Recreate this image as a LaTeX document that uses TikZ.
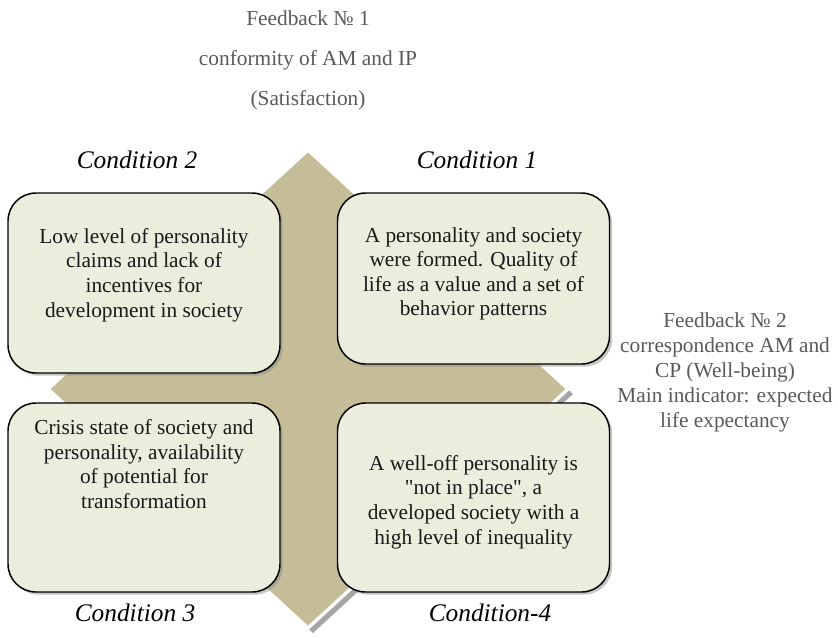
\documentclass[tikz,border=0pt]{standalone}
\usepackage{fontspec}
\setmainfont{Liberation Serif}
\usetikzlibrary{shadows}
\definecolor{tanfill}{HTML}{C4BD97}
\definecolor{boxfill}{HTML}{EBEEDD}
\definecolor{notegray}{HTML}{595959}

\begin{document}
\begin{tikzpicture} [
    x=0.75pt, y=-0.75pt,
    state/.style     = { rectangle, draw=black, line width=1.1pt, fill=boxfill,
                         rounded corners=21pt, minimum width=204pt,
                         drop shadow={shadow xshift=2pt, shadow yshift=-2pt,
                                      fill=black!45} },
    statetext/.style = { align=center, text=black!90,
                         font=\fontsize{16}{18.4}\selectfont },
    cond/.style      = { font=\fontsize{19}{22}\selectfont\itshape },
    note/.style      = { align=center, text=notegray },
  ]
  \useasboundingbox (0,0) rectangle (838,637);
  % the diamond behind the four states
  \coordinate (dtop)    at (308,150);
  \coordinate (dright)  at (568,389);
  \coordinate (dbottom) at (308,628);
  \coordinate (dleft)   at (48,389);
  \fill [black!35] ([shift={(5,5)}]dtop) -- ([shift={(5,5)}]dright)
        -- ([shift={(5,5)}]dbottom) -- ([shift={(5,5)}]dleft) -- cycle;
  \path [fill=tanfill, draw=white, line width=2.5pt]
        (dtop) -- (dright) -- (dbottom) -- (dleft) -- cycle;

  % the four states
  \node [state, minimum height=135pt]    (st2) at (144,283)   {};
  \node [state, minimum height=128.25pt] (st1) at (473.5,278.5) {};
  \node [state, minimum height=141.75pt] (st3) at (144,497.5) {};
  \node [state, minimum height=141.75pt] (st4) at (473.5,497.5) {};

  \node [statetext] (st2-text) at (144,275)
        {Low level of personality\\ claims and lack of\\ incentives for\\ development in society};
  \node [statetext] (st1-text) at (473.5,274)
        {A personality and society\\ were formed. Quality of\\ life as a value and a set of\\ behavior patterns};
  \node [statetext] (st3-text) at (144,464)
        {Crisis state of society and\\ personality, availability\\ of potential for\\ transformation};
  \node [statetext] (st4-text) at (473.5,502)
        {A well-off personality is\\ \textquotedbl not in place\textquotedbl, a\\ developed society with a\\ high level of inequality};

  % labels of the states
  \node [cond] (cond2) at (137,160) {Condition 2};
  \node [cond] (cond1) at (477,160) {Condition 1};
  \node [cond] (cond3) at (135,613) {Condition 3};
  \node [cond] (cond4) at (490,613) {Condition-4};

  % feedback notes
  \node [note, font=\fontsize{16}{30}\selectfont] (fb1) at (308,60)
        {Feedback № 1\\ conformity of AM and IP\\ (Satisfaction)};
  \node [note, font=\fontsize{16}{18.75}\selectfont] (fb2) at (725,372)
        {Feedback № 2\\ correspondence AM and\\ CP (Well-being)\\ Main indicator: expected\\ life expectancy};
\end{tikzpicture}
\end{document}
